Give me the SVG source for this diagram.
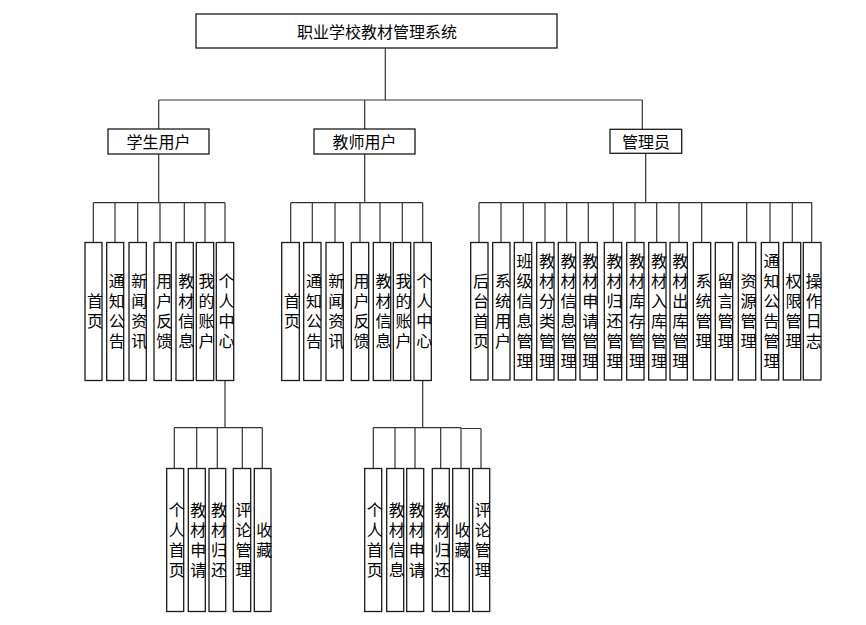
<svg xmlns="http://www.w3.org/2000/svg" width="866" height="625" viewBox="0 0 866 625">
<style>
.bx{fill:#fff;stroke:#1a1a1a;stroke-width:1.3}
.ln{fill:none;stroke:#333;stroke-width:1.2}
text{font-family:"Noto Sans CJK SC","Noto Sans CJK JP",sans-serif;font-size:16px;fill:#000;text-anchor:middle}
.v{writing-mode:vertical-rl;letter-spacing:4px}
</style>
<rect width="866" height="625" fill="#fff"/>
<g id="connectors" class="ln">
<path d="M385.3 48V100M158.7 100H642.3M158.7 100V129M364.7 100V129M642.3 100V129"/>
<path d="M158.7 154V202.7M93.3 202.7H225M93.3 202.7V242.5M115 202.7V242.5M137.7 202.7V242.5M160 202.7V242.5M184.3 202.7V242.5M205 202.7V242.5M225 202.7V242.5"/>
<path d="M364.7 154V202.7M290.7 202.7H422.7M290.7 202.7V242.5M312.3 202.7V242.5M335 202.7V242.5M360 202.7V242.5M380 202.7V242.5M402.3 202.7V242.5M422.7 202.7V242.5"/>
<path d="M645.7 153.3V202.7M479 202.7H812M479 202.7V242.5M501 202.7V242.5M523.3 202.7V242.5M545 202.7V242.5M566.7 202.7V242.5M588.3 202.7V242.5M613.3 202.7V242.5M635 202.7V242.5M656.7 202.7V242.5M679 202.7V242.5M701.7 202.7V242.5M746.7 202.7V242.5M770 202.7V242.5M792.3 202.7V242.5M811.7 202.7V242.5"/>
<path d="M225 380.5V427.7M174.3 427.7H262.3M174.3 427.7V468.5M196.7 427.7V468.5M217.3 427.7V468.5M242.3 427.7V468.5M262.3 427.7V468.5"/>
<path d="M422.7 380.5V427.7M373.3 427.7H461M461 428.5H481M373.3 427.7V468.5M395 427.7V468.5M415 427.7V468.5M440.7 427.7V468.5M461 427.7V468.5M481 428.5V468.5"/>
</g>
<g id="root"><rect class="bx" x="196" y="14" width="361" height="34"/><text x="377" y="37.5">职业学校教材管理系统</text></g>
<g id="student"><rect class="bx" x="108" y="129" width="101" height="25"/><text x="158.5" y="147.5">学生用户</text></g>
<g id="teacher"><rect class="bx" x="314" y="129" width="101" height="25"/><text x="364.5" y="147.5">教师用户</text></g>
<g id="admin"><rect class="bx" x="610" y="129.3" width="71.7" height="24"/><text x="646" y="147.5">管理员</text></g>

<g id="s1"><rect class="bx" x="85" y="242.5" width="17" height="138"/><text class="v" x="95" y="313">首页</text></g>
<g id="s2"><rect class="bx" x="106.7" y="242.5" width="17" height="138"/><text class="v" x="116.7" y="313">通知公告</text></g>
<g id="s3"><rect class="bx" x="129" y="242.5" width="17.3" height="138"/><text class="v" x="139.2" y="313">新闻资讯</text></g>
<g id="s4"><rect class="bx" x="154" y="242.5" width="17.3" height="138"/><text class="v" x="164.2" y="313">用户反馈</text></g>
<g id="s5"><rect class="bx" x="176" y="242.5" width="17.3" height="138"/><text class="v" x="186.2" y="313">教材信息</text></g>
<g id="s6"><rect class="bx" x="196.3" y="242.5" width="17.4" height="138"/><text class="v" x="206.5" y="313">我的账户</text></g>
<g id="s7"><rect class="bx" x="216.3" y="242.5" width="17.4" height="138"/><text class="v" x="226.5" y="313">个人中心</text></g>

<g id="t1"><rect class="bx" x="281.7" y="242.5" width="17.6" height="138"/><text class="v" x="292" y="313">首页</text></g>
<g id="t2"><rect class="bx" x="303.7" y="242.5" width="17.3" height="138"/><text class="v" x="313.9" y="313">通知公告</text></g>
<g id="t3"><rect class="bx" x="326" y="242.5" width="17.3" height="138"/><text class="v" x="336.2" y="313">新闻资讯</text></g>
<g id="t4"><rect class="bx" x="351.3" y="242.5" width="17.4" height="138"/><text class="v" x="361.5" y="313">用户反馈</text></g>
<g id="t5"><rect class="bx" x="373.3" y="242.5" width="17.4" height="138"/><text class="v" x="383.5" y="313">教材信息</text></g>
<g id="t6"><rect class="bx" x="393.3" y="242.5" width="17.4" height="138"/><text class="v" x="403.5" y="313">我的账户</text></g>
<g id="t7"><rect class="bx" x="414" y="242.5" width="17.3" height="138"/><text class="v" x="424.2" y="313">个人中心</text></g>

<g id="a1"><rect class="bx" x="470.7" y="242.5" width="17.3" height="137.5"/><text class="v" x="480.9" y="313">后台首页</text></g>
<g id="a2"><rect class="bx" x="492.7" y="242.5" width="17.3" height="137.5"/><text class="v" x="502.9" y="313">系统用户</text></g>
<g id="a3"><rect class="bx" x="514.3" y="242.5" width="17.4" height="137.5"/><text class="v" x="524.5" y="313">班级信息管理</text></g>
<g id="a4"><rect class="bx" x="536.7" y="242.5" width="17.3" height="137.5"/><text class="v" x="546.9" y="313">教材分类管理</text></g>
<g id="a5"><rect class="bx" x="558.3" y="242.5" width="17.4" height="137.5"/><text class="v" x="568.5" y="313">教材信息管理</text></g>
<g id="a6"><rect class="bx" x="580" y="242.5" width="17.3" height="137.5"/><text class="v" x="590.2" y="313">教材申请管理</text></g>
<g id="a7"><rect class="bx" x="604.3" y="242.5" width="17.4" height="137.5"/><text class="v" x="614.5" y="313">教材归还管理</text></g>
<g id="a8"><rect class="bx" x="626.7" y="242.5" width="17.3" height="137.5"/><text class="v" x="636.9" y="313">教材库存管理</text></g>
<g id="a9"><rect class="bx" x="648.7" y="242.5" width="17.3" height="137.5"/><text class="v" x="658.9" y="313">教材入库管理</text></g>
<g id="a10"><rect class="bx" x="670" y="242.5" width="17.3" height="137.5"/><text class="v" x="680.2" y="313">教材出库管理</text></g>
<g id="a11"><rect class="bx" x="693.3" y="242.5" width="17.4" height="137.5"/><text class="v" x="703.5" y="313">系统管理</text></g>
<g id="a12"><rect class="bx" x="715.3" y="242.5" width="17.4" height="137.5"/><text class="v" x="725.5" y="313">留言管理</text></g>
<g id="a13"><rect class="bx" x="738.3" y="242.5" width="17.4" height="137.5"/><text class="v" x="748.5" y="313">资源管理</text></g>
<g id="a14"><rect class="bx" x="761.3" y="242.5" width="17.4" height="137.5"/><text class="v" x="771.5" y="313">通知公告管理</text></g>
<g id="a15"><rect class="bx" x="783.3" y="242.5" width="17.4" height="137.5"/><text class="v" x="793.5" y="313">权限管理</text></g>
<g id="a16"><rect class="bx" x="803.3" y="242.5" width="17.7" height="137.5"/><text class="v" x="813.7" y="313">操作日志</text></g>

<g id="sp1"><rect class="bx" x="166.7" y="468.5" width="17" height="143"/><text class="v" x="176.7" y="542">个人首页</text></g>
<g id="sp2"><rect class="bx" x="188.3" y="468.5" width="17" height="143"/><text class="v" x="198.3" y="542">教材申请</text></g>
<g id="sp3"><rect class="bx" x="209" y="468.5" width="16.7" height="143"/><text class="v" x="218.9" y="542">教材归还</text></g>
<g id="sp4"><rect class="bx" x="233.3" y="468.5" width="17.4" height="143"/><text class="v" x="243.5" y="542">评论管理</text></g>
<g id="sp5"><rect class="bx" x="254.3" y="468.5" width="16.7" height="143"/><text class="v" x="264.2" y="542">收藏</text></g>

<g id="tp1"><rect class="bx" x="364.7" y="468.5" width="17" height="143"/><text class="v" x="374.7" y="542">个人首页</text></g>
<g id="tp2"><rect class="bx" x="386.7" y="468.5" width="17" height="143"/><text class="v" x="396.7" y="542">教材信息</text></g>
<g id="tp3"><rect class="bx" x="406.7" y="468.5" width="17" height="143"/><text class="v" x="416.7" y="542">教材申请</text></g>
<g id="tp4"><rect class="bx" x="432.3" y="468.5" width="17" height="143"/><text class="v" x="442.3" y="542">教材归还</text></g>
<g id="tp5"><rect class="bx" x="452.7" y="468.5" width="16.6" height="143"/><text class="v" x="462.5" y="542">收藏</text></g>
<g id="tp6"><rect class="bx" x="472.7" y="468.5" width="17" height="143"/><text class="v" x="482.7" y="542">评论管理</text></g>
</svg>
